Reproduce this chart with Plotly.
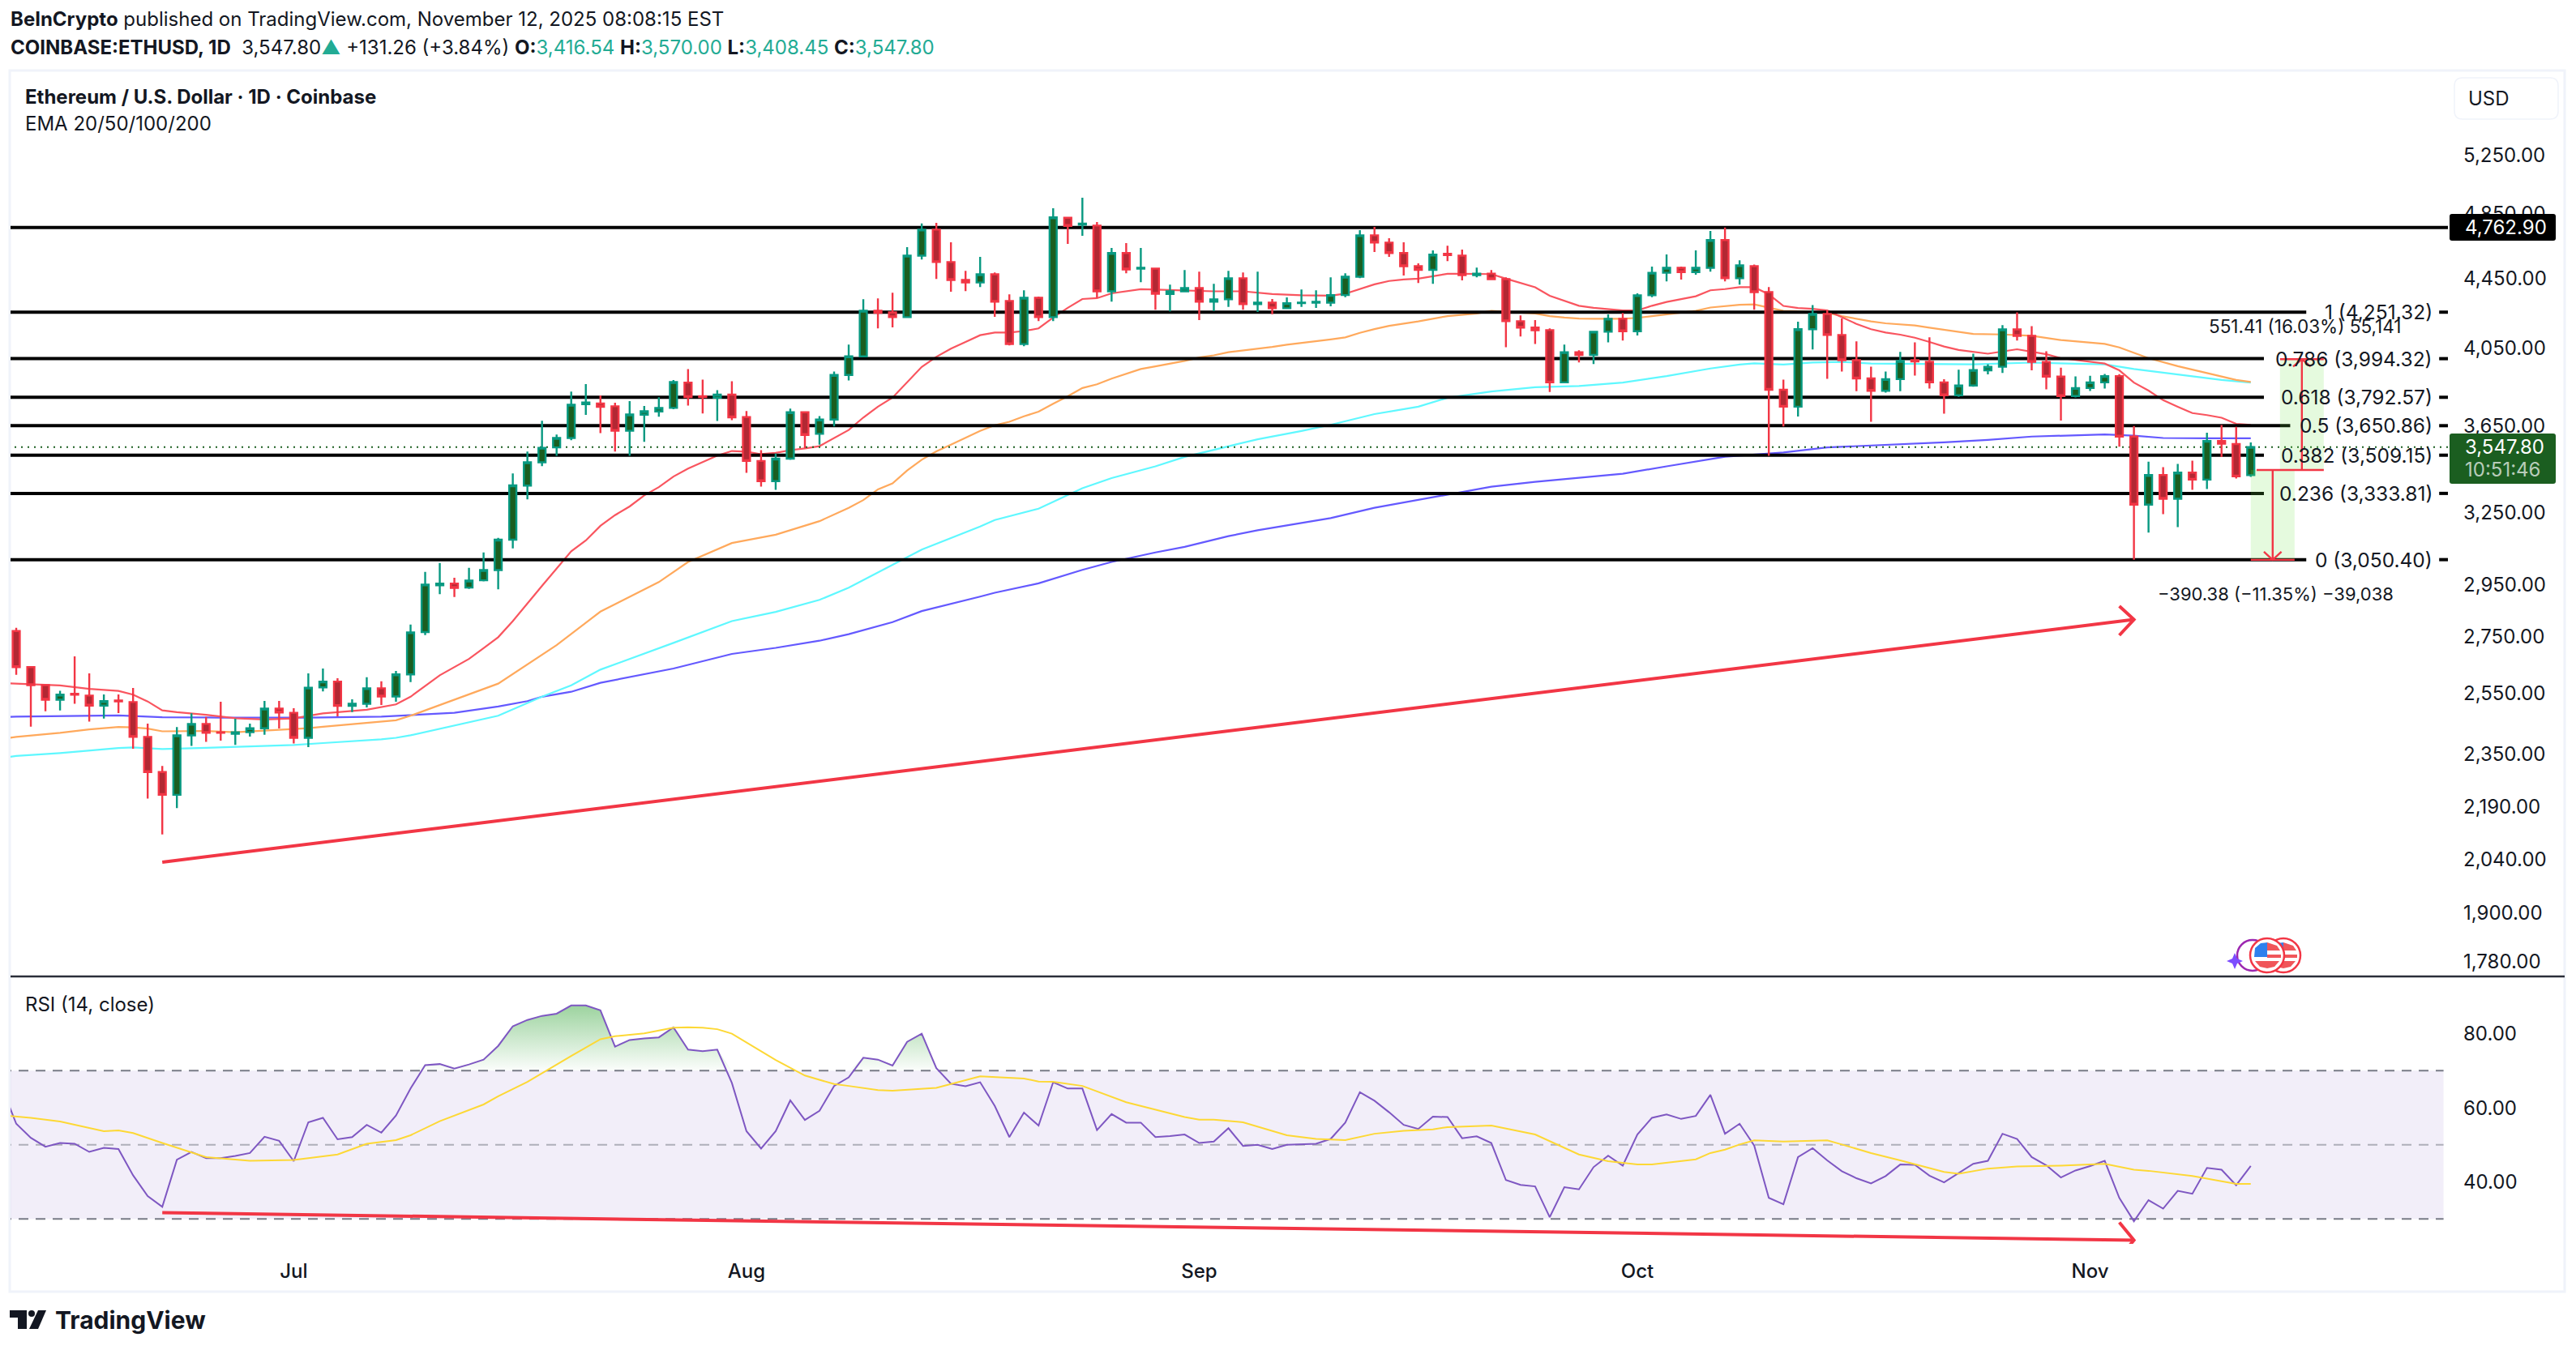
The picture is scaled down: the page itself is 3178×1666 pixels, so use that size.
"""ETH/USD daily chart with EMAs, fib levels and RSI pane."""
import math
import numpy as np
import pandas as pd
import plotly.graph_objects as go

W, H = 3178, 1666
FONT = "Inter"
INK = "#131722"
RED = "#f23645"
TEAL = "#22ab94"

first_day = pd.Timestamp("2025-06-12")

opens = [2772, 2641, 2578, 2528, 2548, 2542, 2508, 2525, 2520, 2405, 2294, 2225, 2410, 2447, 2420, 2415, 2420, 2433,
         2498, 2484, 2402, 2570, 2590, 2507, 2514, 2567, 2539, 2615, 2768, 2947, 2954, 2938, 2967, 3008, 3133, 3369,
         3476, 3546, 3591, 3758, 3761, 3747, 3626, 3705, 3721, 3739, 3868, 3798, 3790, 3806, 3693, 3482, 3389, 3493,
         3717, 3611, 3681, 3908, 4007, 4259, 4250, 4223, 4586, 4749, 4547, 4439, 4424, 4473, 4316, 4073, 4334, 4223,
         4825, 4780, 4775, 4372, 4602, 4507, 4507, 4356, 4372, 4391, 4311, 4325, 4449, 4297, 4306, 4274, 4303, 4306,
         4306, 4350, 4458, 4713, 4667, 4602, 4522, 4500, 4597, 4586, 4468, 4477, 4444, 4200, 4164, 4150, 3869, 4029,
         4014, 4141, 4214, 4144, 4349, 4482, 4512, 4486, 4512, 4683, 4449, 4522, 4367, 3831, 3745, 4155, 4241, 4123,
         3986, 3890, 3826, 3886, 3986, 3978, 3869, 3803, 3853, 3932, 3951, 4154, 4118, 3977, 3899, 3799, 3840, 3869,
         3902, 3598, 3284, 3417, 3310, 3428, 3396, 3577, 3562, 3416.54]
highs = [2784, 2644, 2580, 2558, 2679, 2619, 2546, 2546, 2568, 2448, 2313, 2437, 2482, 2470, 2521, 2464, 2448, 2524,
         2524, 2499, 2619, 2636, 2602, 2529, 2605, 2591, 2627, 2796, 3001, 3037, 2977, 3017, 3080, 3141, 3424, 3526,
         3675, 3608, 3822, 3860, 3802, 3765, 3773, 3749, 3793, 3881, 3939, 3883, 3829, 3875, 3723, 3533, 3517, 3735,
         3722, 3698, 3926, 4070, 4326, 4331, 4364, 4639, 4788, 4793, 4669, 4494, 4578, 4484, 4354, 4378, 4341, 4887,
         4828, 4957, 4798, 4634, 4664, 4634, 4513, 4411, 4499, 4489, 4416, 4494, 4484, 4489, 4327, 4336, 4383, 4378,
         4455, 4479, 4746, 4767, 4694, 4669, 4539, 4618, 4648, 4624, 4513, 4499, 4455, 4233, 4206, 4160, 4070, 4040,
         4146, 4238, 4247, 4360, 4519, 4594, 4519, 4618, 4741, 4762, 4558, 4532, 4397, 3883, 4197, 4292, 4263, 4215,
         4088, 3952, 3926, 4031, 4083, 4110, 3886, 3935, 4021, 3964, 4178, 4250, 4172, 4034, 3946, 3900, 3903, 3913,
         3912, 3649, 3479, 3453, 3468, 3483, 3617, 3654, 3645, 3570.00]
lows = [2614, 2438, 2489, 2492, 2514, 2455, 2465, 2483, 2367, 2214, 2110, 2186, 2376, 2389, 2393, 2379, 2406, 2412,
        2432, 2384, 2372, 2556, 2472, 2486, 2502, 2510, 2521, 2588, 2757, 2912, 2901, 2933, 2963, 2931, 3097, 3307,
        3458, 3506, 3580, 3704, 3615, 3526, 3506, 3573, 3695, 3732, 3751, 3711, 3674, 3678, 3427, 3364, 3350, 3487,
        3543, 3559, 3647, 3879, 4004, 4160, 4165, 4220, 4563, 4445, 4369, 4373, 4397, 4225, 4066, 4061, 4201, 4201,
        4659, 4710, 4334, 4312, 4479, 4426, 4265, 4256, 4369, 4206, 4258, 4281, 4265, 4252, 4240, 4271, 4281, 4276,
        4285, 4337, 4450, 4609, 4578, 4465, 4421, 4416, 4553, 4436, 4455, 4439, 4056, 4115, 4074, 3820, 3866, 3974,
        3965, 4083, 4092, 4120, 4337, 4431, 4441, 4470, 4489, 4431, 4411, 4265, 3506, 3647, 3696, 4044, 3888, 3926,
        3824, 3670, 3816, 3824, 3905, 3837, 3710, 3795, 3847, 3911, 3918, 4093, 3932, 3833, 3676, 3792, 3825, 3837,
        3549, 3050, 3163, 3242, 3186, 3350, 3353, 3501, 3401, 3408.45]
closes = [2641, 2578, 2528, 2545, 2545, 2508, 2523, 2522, 2405, 2294, 2225, 2410, 2447, 2418, 2418, 2420, 2433, 2498,
          2485, 2402, 2569, 2590, 2507, 2514, 2567, 2539, 2615, 2767, 2950, 2954, 2937, 2966, 3008, 3133, 3370, 3476,
          3544, 3591, 3755, 3766, 3744, 3626, 3706, 3722, 3739, 3871, 3794, 3794, 3806, 3692, 3482, 3389, 3493, 3717,
          3606, 3681, 3908, 4007, 4259, 4248, 4223, 4586, 4749, 4547, 4439, 4424, 4473, 4311, 4073, 4334, 4223, 4828,
          4773, 4787, 4372, 4602, 4502, 4512, 4358, 4372, 4391, 4311, 4325, 4449, 4297, 4306, 4274, 4303, 4306, 4311,
          4350, 4458, 4713, 4667, 4602, 4522, 4500, 4592, 4589, 4468, 4477, 4444, 4200, 4164, 4149, 3869, 4029, 4014,
          4141, 4214, 4144, 4349, 4482, 4512, 4486, 4512, 4683, 4449, 4527, 4367, 3831, 3745, 4155, 4241, 4123, 3986,
          3890, 3826, 3886, 3982, 3979, 3869, 3803, 3853, 3934, 3951, 4154, 4118, 3977, 3899, 3799, 3840, 3869, 3902,
          3598, 3284, 3417, 3310, 3428, 3396, 3577, 3564, 3411, 3547.80]

# ema readings: bar number, value
ema20_bars = [-1, 0, 3, 5, 7, 8, 9, 10, 11, 13, 15, 17, 19, 20, 21, 22, 24, 26, 27, 29, 31, 32, 33, 34, 35, 36, 38, 39,
              40, 41, 42, 43, 44, 45, 46, 47, 48, 49, 50, 51, 52, 53, 54, 55, 56, 57, 58, 59, 60, 61, 62, 63, 64, 65,
              66, 67, 68, 69, 70, 71, 72, 73, 74, 75, 76, 77, 78, 80, 82, 84, 86, 88, 90, 91, 92, 93, 94, 95, 96, 97,
              98, 99, 101, 102, 103, 104, 105, 106, 107, 108, 109, 110, 111, 112, 113, 114, 115, 116, 117, 118, 119,
              120, 121, 122, 123, 124, 125, 126, 127, 128, 129, 130, 131, 132, 133, 135, 137, 139, 140, 141, 142, 143,
              144, 145, 146, 147, 148, 149, 150, 151, 152, 153]
ema20_vals = [2585, 2583, 2577, 2565, 2558, 2545, 2522, 2492, 2486, 2477, 2466, 2462, 2465, 2474, 2482, 2486, 2494,
              2512, 2538, 2612, 2670, 2709, 2749, 2809, 2877, 2945, 3085, 3130, 3192, 3238, 3276, 3325, 3362, 3410,
              3447, 3476, 3507, 3529, 3526, 3514, 3520, 3533, 3541, 3552, 3592, 3630, 3691, 3745, 3791, 3868, 3950,
              4004, 4048, 4085, 4122, 4137, 4137, 4145, 4160, 4221, 4276, 4327, 4332, 4360, 4372, 4384, 4382, 4378,
              4372, 4372, 4356, 4349, 4346, 4358, 4385, 4413, 4433, 4442, 4447, 4463, 4476, 4476, 4474, 4447, 4420,
              4396, 4346, 4318, 4288, 4276, 4270, 4261, 4261, 4288, 4310, 4325, 4343, 4378, 4385, 4396, 4396, 4354,
              4287, 4275, 4270, 4261, 4223, 4185, 4155, 4137, 4125, 4108, 4085, 4060, 4041, 4021, 4045, 4018, 3997,
              3987, 3975, 3968, 3932, 3868, 3827, 3778, 3745, 3713, 3703, 3690, 3660, 3655]
ema50_bars = [-1, 0, 3, 5, 7, 8, 9, 10, 13, 15, 17, 19, 20, 21, 22, 24, 26, 27, 29, 31, 33, 37, 40, 44, 46, 49, 52, 55,
              57, 58, 59, 60, 61, 62, 63, 64, 65, 66, 67, 68, 69, 70, 71, 72, 73, 74, 75, 76, 77, 78, 79, 80, 81, 82,
              83, 84, 85, 86, 87, 88, 90, 91, 92, 93, 94, 96, 98, 100, 101, 104, 105, 106, 107, 108, 110, 111, 112,
              113, 114, 115, 116, 117, 118, 119, 120, 121, 122, 124, 125, 126, 127, 128, 129, 130, 131, 132, 134, 136,
              138, 140, 143, 144, 145, 146, 148, 150, 152, 153]
ema50_vals = [2398, 2405, 2418, 2429, 2437, 2436, 2432, 2423, 2424, 2420, 2425, 2429, 2433, 2438, 2442, 2449, 2459,
              2474, 2510, 2547, 2583, 2720, 2845, 2960, 3041, 3119, 3154, 3212, 3270, 3304, 3352, 3379, 3438, 3488,
              3527, 3559, 3592, 3625, 3653, 3670, 3697, 3720, 3760, 3798, 3840, 3859, 3889, 3915, 3939, 3953, 3968,
              3982, 4001, 4012, 4029, 4038, 4049, 4058, 4070, 4079, 4099, 4110, 4135, 4156, 4174, 4199, 4229, 4244,
              4259, 4244, 4229, 4221, 4215, 4214, 4214, 4219, 4229, 4237, 4247, 4259, 4278, 4285, 4294, 4296, 4278,
              4259, 4256, 4248, 4229, 4214, 4199, 4188, 4182, 4176, 4164, 4152, 4129, 4126, 4119, 4095, 4074, 4055,
              4026, 3997, 3954, 3918, 3882, 3871]
ema100_bars = [-1, 0, 3, 7, 8, 10, 13, 17, 19, 21, 25, 26, 27, 33, 36, 38, 40, 45, 49, 52, 55, 57, 60, 62, 66, 67, 70,
               73, 75, 78, 80, 83, 85, 88, 90, 93, 96, 98, 101, 104, 107, 110, 113, 116, 118, 119, 121, 123, 125, 127,
               132, 134, 138, 143, 145, 148, 151, 153]
ema100_vals = [2338, 2344, 2353, 2369, 2371, 2366, 2370, 2376, 2379, 2385, 2397, 2402, 2410, 2474, 2538, 2577, 2632,
               2728, 2809, 2844, 2890, 2938, 3028, 3092, 3189, 3217, 3266, 3357, 3403, 3457, 3501, 3552, 3585, 3625,
               3655, 3708, 3745, 3790, 3822, 3844, 3850, 3868, 3902, 3942, 3963, 3969, 3963, 3974, 3977, 3968, 3963,
               3964, 3973, 3964, 3939, 3911, 3882, 3868]
ema200_bars = [-1, 0, 7, 9, 10, 14, 18, 20, 25, 27, 30, 33, 35, 36, 38, 40, 45, 49, 52, 55, 57, 60, 62, 66, 67, 70, 73,
               75, 78, 80, 83, 85, 88, 90, 93, 98, 101, 104, 107, 110, 113, 117, 121, 124, 132, 135, 138, 143, 145,
               147, 150, 153]
ema200_vals = [2470, 2471, 2475, 2471, 2469, 2468, 2468, 2468, 2471, 2476, 2484, 2505, 2523, 2538, 2555, 2586, 2636,
               2688, 2710, 2736, 2760, 2805, 2847, 2903, 2918, 2955, 3009, 3041, 3080, 3103, 3148, 3173, 3203, 3225,
               3270, 3328, 3364, 3386, 3405, 3423, 3457, 3502, 3522, 3546, 3570, 3582, 3598, 3608, 3602, 3591, 3590,
               3590]

# rsi starts one bar before the first candle
rsi_vals = [65.7, 55.7, 51.9, 49.5, 50.5, 50.3, 48.1, 49.2, 48.9, 41.8, 36.2, 33.3, 46.0, 48.1, 46.4, 46.4, 47.0, 47.8,
            52.2, 51.1, 45.6, 56.1, 57.3, 51.5, 52.1, 55.4, 53.3, 57.9, 65.2, 71.5, 71.8, 70.6, 71.7, 73.0, 76.7,
            82.0, 83.7, 84.8, 85.4, 87.6, 87.6, 86.3, 76.5, 78.3, 78.7, 79.0, 81.7, 75.7, 75.3, 75.7, 66.7, 53.7,
            49.0, 53.7, 62.0, 56.7, 59.2, 65.9, 68.2, 73.5, 73.0, 71.4, 77.8, 80.0, 70.7, 66.5, 65.8, 66.9, 60.5,
            52.1, 58.7, 55.2, 66.9, 65.2, 65.2, 54.0, 58.3, 56.0, 56.0, 52.1, 52.4, 52.8, 50.5, 50.9, 54.5, 49.7,
            50.0, 48.9, 50.0, 50.1, 50.3, 51.6, 56.0, 64.2, 61.9, 58.8, 55.4, 54.3, 57.6, 57.5, 51.8, 52.3, 50.5,
            40.5, 39.2, 38.8, 30.5, 38.6, 38.0, 44.0, 47.1, 44.4, 52.8, 57.3, 58.2, 57.0, 57.8, 63.5, 53.0, 55.7,
            49.8, 35.7, 34.0, 46.7, 49.1, 45.8, 42.9, 41.0, 39.6, 41.6, 44.7, 44.6, 41.7, 39.9, 42.4, 44.9, 45.7,
            53.0, 51.6, 46.7, 44.5, 41.2, 43.1, 44.3, 45.7, 35.7, 29.4, 35.1, 32.8, 37.6, 36.8, 43.8, 43.3, 39.1, 44.3]
rsi_ma_bars = [-1, 1, 3, 6, 7, 8, 10, 13, 16, 19, 22, 24, 26, 27, 29, 32, 33, 35, 38, 40, 41, 43, 45, 46, 47, 48, 49,
               52, 54, 56, 57, 59, 60, 63, 66, 69, 70, 71, 73, 76, 80, 81, 82, 84, 87, 89, 91, 93, 95, 97, 98, 101,
               104, 107, 109, 111, 112, 115, 116, 117, 118, 119, 121, 124, 125, 127, 129, 132, 133, 135, 137, 140,
               143, 145, 146, 149, 152, 153]
rsi_ma_vals = [58.0, 57.3, 56.3, 53.7, 53.9, 53.2, 50.5, 46.7, 45.7, 45.9, 47.4, 50.3, 51.3, 52.6, 56.4, 60.9, 63.1,
               67.0, 74.0, 78.5, 79.3, 80.1, 81.6, 81.7, 81.6, 81.2, 80.0, 72.9, 68.7, 66.4, 65.9, 64.8, 64.6, 65.4,
               68.5, 67.9, 67.1, 67.0, 65.9, 61.5, 57.5, 56.8, 56.8, 56.1, 52.6, 51.6, 51.3, 53.0, 53.8, 54.2, 54.8,
               55.2, 52.8, 47.4, 45.6, 44.7, 44.7, 46.1, 47.8, 48.7, 50.1, 51.2, 50.9, 51.2, 50.1, 47.8, 45.8, 42.7,
               42.2, 43.6, 44.2, 44.4, 44.9, 43.3, 43.0, 41.6, 39.5, 39.5]

fib_ratios = ["1", "0.786", "0.618", "0.5", "0.382", "0.236", "0"]
fib_prices = [4251.32, 3994.32, 3792.57, 3650.86, 3509.15, 3333.81, 3050.40]
fib_line_end = [156.8, 153.9, 153.9, 155.7, 153.9, 153.9, 156.8]
resistance = 4762.90
last_price = 3547.80

price_ticks = [5250, 4850, 4450, 4050, 3650, 3250, 2950, 2750, 2550, 2350, 2190, 2040, 1900, 1780]
rsi_ticks = [80, 60, 40]
month_ticks = ["2025-07-01", "2025-08-01", "2025-09-01", "2025-10-01", "2025-11-01"]
month_labels = ["Jul", "Aug", "Sep", "Oct", "Nov"]

trend_bars = [10, 145]
trend_prices = [2033, 2815]
trend_head_bars = [144, 145, 144]
trend_head_prices = [2866, 2815, 2756]
rsi_trend_bars = [10, 145]
rsi_trend_vals = [31.7, 24.3]
rsi_head_bars = [144, 145, 144]
rsi_head_vals = [29.1, 24.3, 19.5]

measure_start = 3440
measure_top = 3991.41
measure_bottom = 3049.62


def day(i):
    return first_day + pd.Timedelta(days=float(i))


def days(items):
    return [day(i) for i in items]


def px(x):
    return x / W


def py(y):
    return 1 - y / H


def box_path(x0, y0, x1, y1, r=0):
    a, b, c, d = px(x0), py(y0), px(x1), py(y1)
    rx, ry = px(r), r / H
    return (f"M {a + rx} {b} L {c - rx} {b} Q {c} {b} {c} {b - ry} L {c} {d + ry} Q {c} {d} {c - rx} {d} "
            f"L {a + rx} {d} Q {a} {d} {a} {d + ry} L {a} {b - ry} Q {a} {b} {a + rx} {b} Z")


def poly_path(points):
    return "M " + " L ".join(f"{px(x)} {py(y)}" for x, y in points) + " Z"


def note(x, y, text, size=24, color=INK, anchor="left", yref="paper", **kw):
    return dict(x=px(x), y=py(y) if yref == "paper" else y, xref="paper", yref=yref, text=text, showarrow=False,
                xanchor=anchor, yanchor="middle", font=dict(family=FONT, size=size, color=color), **kw)


fig = go.Figure()

# emas under everything
ema_sets = [(ema200_bars, ema200_vals, "#6459ff"), (ema100_bars, ema100_vals, "#5ff8ff"),
            (ema50_bars, ema50_vals, "#ffa95c"), (ema20_bars, ema20_vals, "#f9555f")]
for bars, vals, col in ema_sets:
    fig.add_trace(go.Scatter(x=days(bars), y=vals, mode="lines", line=dict(color=col, width=2.2),
                             xaxis="x", yaxis="y", hoverinfo="skip"))

fig.add_trace(go.Scatter(x=days([-1, 166.5]), y=[last_price, last_price], mode="lines",
                         line=dict(color="#1b5e20", width=2, dash="2px,6px"), xaxis="x", yaxis="y"))
fig.add_trace(go.Scatter(x=days([-1, 166.5]), y=[resistance, resistance], mode="lines",
                         line=dict(color="black", width=4), xaxis="x", yaxis="y"))
for level, end in zip(fib_prices, fib_line_end):
    fig.add_trace(go.Scatter(x=[day(-1), day(end), None, day(165.9), day(166.5)],
                             y=[level, level, None, level, level], mode="lines",
                             line=dict(color="black", width=4), xaxis="x", yaxis="y"))

# candles sit in an overlay subplot so they draw above the lines
fig.add_trace(go.Candlestick(x=days(range(len(opens))), open=opens, high=highs, low=lows, close=closes,
                             increasing=dict(line=dict(color="#089981", width=2.4), fillcolor="#1b5e20"),
                             decreasing=dict(line=dict(color=RED, width=2.4), fillcolor="#b22833"),
                             whiskerwidth=0, xaxis="x3", yaxis="y3", hoverinfo="skip"))

for bar0, bar1, p0, p1 in [(155, 158, measure_start, measure_top), (153, 156, measure_start, measure_bottom)]:
    fig.add_trace(go.Scatter(x=days([bar0, bar1, bar1, bar0, bar0]), y=[p0, p0, p1, p1, p0], mode="lines",
                             fill="toself", fillcolor="rgba(110,225,70,0.18)", line=dict(width=0),
                             xaxis="x3", yaxis="y3"))

red_lines = [
    ([10, 145], trend_prices, 4), (trend_head_bars, trend_head_prices, 4),
    ([153.4, 158], [measure_start, measure_start], 2.4), ([155, 158], [measure_top, measure_top], 2.4),
    ([153, 156], [measure_bottom, measure_bottom], 2.4),
    ([156.5, 156.5], [measure_start, measure_top], 2.4), ([155.9, 156.5, 157.1], [3952, measure_top, 3952], 2.4),
    ([154.5, 154.5], [measure_start, measure_bottom], 2.4), ([153.9, 154.5, 155.1], [3083, measure_bottom, 3083], 2.4),
]
for bars, vals, lw in red_lines:
    fig.add_trace(go.Scatter(x=days(bars), y=vals, mode="lines", line=dict(color=RED, width=lw),
                             xaxis="x3", yaxis="y3"))

# rsi pane
rsi_days = days(range(-1, len(rsi_vals) - 1))
rsi_arr = np.array(rsi_vals)
fig.add_trace(go.Scatter(x=rsi_days, y=[70] * len(rsi_vals), mode="lines", line=dict(width=0),
                         xaxis="x2", yaxis="y2"))
fig.add_trace(go.Scatter(x=rsi_days, y=np.maximum(rsi_arr, 70), mode="lines", line=dict(width=0), fill="tonexty",
                         fillgradient=dict(type="vertical", colorscale=[[0, "rgba(76,175,80,0.02)"],
                                                                        [1, "rgba(76,175,80,0.55)"]]),
                         xaxis="x2", yaxis="y2"))
for level, col in [(70, "#787b86"), (50, "rgba(120,123,134,0.55)"), (30, "#787b86")]:
    fig.add_trace(go.Scatter(x=days([-1, 166.2]), y=[level, level], mode="lines",
                             line=dict(color=col, width=2, dash="12px,9px"), xaxis="x2", yaxis="y2"))
fig.add_trace(go.Scatter(x=rsi_days, y=rsi_vals, mode="lines", line=dict(color="#7e57c2", width=2),
                         xaxis="x2", yaxis="y2"))
fig.add_trace(go.Scatter(x=days(rsi_ma_bars), y=rsi_ma_vals, mode="lines", line=dict(color="#fdd835", width=2),
                         xaxis="x2", yaxis="y2"))
fig.add_trace(go.Scatter(x=days(rsi_trend_bars), y=rsi_trend_vals, mode="lines", line=dict(color=RED, width=4),
                         xaxis="x2", yaxis="y2"))
fig.add_trace(go.Scatter(x=days(rsi_head_bars), y=rsi_head_vals, mode="lines", line=dict(color=RED, width=4),
                         xaxis="x2", yaxis="y2"))

price_range = [math.log10(1744), math.log10(5879)]
rsi_range = [23.3, 95.0]
x_range = [day(-0.39), day(166.5)]
x_domain = [px(13), px(3020)]
tick_font = dict(family=FONT, size=24, color=INK)

shapes = [
    dict(type="rect", xref="x2", yref="y2", x0=day(-1), x1=day(166.2), y0=30, y1=70, layer="below",
         fillcolor="rgba(126,87,194,0.1)", line=dict(width=0)),
    dict(type="rect", xref="paper", yref="paper", x0=px(12), x1=px(3164), y0=py(1594), y1=py(87),
         line=dict(color="#f0f3fa", width=3), layer="below"),
    dict(type="line", xref="paper", yref="paper", x0=px(13), x1=px(3164), y0=py(1205), y1=py(1205),
         line=dict(color="#2a2e39", width=2.5)),
    dict(type="path", xref="paper", yref="paper", path=box_path(3028, 96, 3156, 147, 10),
         line=dict(color="#f0f3fa", width=1.5)),
    dict(type="path", xref="paper", yref="paper", path=box_path(3022, 264, 3153, 297, 3),
         fillcolor="black", line=dict(width=0)),
    dict(type="path", xref="paper", yref="paper", path=box_path(3022, 535, 3153, 597, 3),
         fillcolor="#1b5e20", line=dict(width=0)),
    # tradingview mark
    dict(type="path", xref="paper", yref="paper", fillcolor="#131722", line=dict(width=0),
         path=poly_path([(12, 1617), (33, 1617), (33, 1640), (22, 1640), (22, 1626), (12, 1626)])),
    dict(type="path", xref="paper", yref="paper", fillcolor="#131722", line=dict(width=0),
         path=poly_path([(47, 1617), (57, 1617), (47, 1640), (36, 1640)])),
    dict(type="circle", xref="paper", yref="paper", fillcolor="#131722", line=dict(width=0),
         x0=px(35), x1=px(43), y0=py(1625), y1=py(1617)),
    # event icons
    dict(type="circle", xref="paper", yref="paper", line=dict(color="#9c27b0", width=2.5),
         x0=px(2760), x1=px(2798), y0=py(1198), y1=py(1160)),
    dict(type="path", xref="paper", yref="paper", fillcolor="#7c4dff", line=dict(width=0),
         path=poly_path([(2757, 1176), (2760, 1183), (2767, 1186), (2760, 1189), (2757, 1196), (2754, 1189),
                         (2747, 1186), (2754, 1183)])),
]
for cx in [2817, 2797]:
    shapes += [
        dict(type="circle", xref="paper", yref="paper", fillcolor="white", line=dict(color=RED, width=2.5),
             x0=px(cx - 21), x1=px(cx + 21), y0=py(1200), y1=py(1158)),
        dict(type="path", xref="paper", yref="paper", fillcolor="#f0565a", line=dict(width=0),
             path=poly_path([(cx, 1163), (cx + 12, 1167), (cx + 16, 1173), (cx, 1173)])),
        dict(type="path", xref="paper", yref="paper", fillcolor="#f0565a", line=dict(width=0),
             path=poly_path([(cx, 1178), (cx + 17, 1178), (cx + 17, 1182), (cx, 1182)])),
        dict(type="path", xref="paper", yref="paper", fillcolor="#f0565a", line=dict(width=0),
             path=poly_path([(cx - 15, 1186), (cx + 15, 1186), (cx + 9, 1193), (cx, 1195), (cx - 9, 1193)])),
        dict(type="path", xref="paper", yref="paper", fillcolor="#2f80ed", line=dict(width=0),
             path=poly_path([(cx - 15, 1170), (cx - 8, 1164), (cx, 1163), (cx, 1181), (cx - 16, 1181)])),
    ]

head1 = ("<b>BeInCrypto</b> published on TradingView.com, November 12, 2025 08:08:15 EST")
head2 = (f"<b>COINBASE:ETHUSD, 1D</b>  3,547.80<span style='color:{TEAL}'>▲</span> +131.26 (+3.84%) "
         f"<b>O:</b><span style='color:{TEAL}'>3,416.54</span> <b>H:</b><span style='color:{TEAL}'>3,570.00</span> "
         f"<b>L:</b><span style='color:{TEAL}'>3,408.45</span> <b>C:</b><span style='color:{TEAL}'>3,547.80</span>")
annotations = [
    note(11, 24, head1, size=24),
    note(11, 58, head2, size=24),
    note(29, 120, "<b>Ethereum / U.S. Dollar · 1D · Coinbase</b>", size=24),
    note(29, 153, "EMA 20/50/100/200", size=24),
    note(29, 1239, "RSI (14, close)", size=24),
    note(66, 1629, "<b>TradingView</b>", size=30),
    note(3043, 121, "USD", size=24),
    note(3039, 281, "4,762.90", color="white"),
    note(3039, 551, "3,547.80", color="white"),
    note(3039, 579, "10:51:46", color="rgba(255,255,255,0.7)"),
    note(2843, 403, "551.41 (16.03%) 55,141", size=22.5, anchor="center"),
    note(2807, 733, "−390.38 (−11.35%) −39,038", size=22, anchor="center"),
]
for ratio, level in zip(fib_ratios, fib_prices):
    annotations.append(note(3003, math.log10(level), f"{ratio} ({level:,.2f})", size=24.5, anchor="right", yref="y"))

fig.update_layout(
    width=W, height=H, autosize=False, margin=dict(l=0, r=0, t=0, b=0), showlegend=False,
    paper_bgcolor="white", plot_bgcolor="rgba(0,0,0,0)", font=dict(family=FONT, color=INK),
    shapes=shapes, annotations=annotations,
    xaxis=dict(domain=x_domain, range=x_range, type="date", anchor="y", showticklabels=False, showgrid=False,
               zeroline=False, showline=False, ticks=""),
    yaxis=dict(domain=[py(1205), py(87)], range=price_range, type="log", side="right", anchor="x", showgrid=False,
               zeroline=False, showline=False, ticks="", tickmode="array", tickvals=price_ticks,
               ticktext=[f"{t:,.2f}" for t in price_ticks], tickfont=tick_font, ticklabelstandoff=18),
    xaxis3=dict(domain=x_domain, range=x_range, type="date", overlaying="x", anchor="y3", visible=False,
                rangeslider=dict(visible=False)),
    yaxis3=dict(domain=[py(1205), py(87)], range=price_range, type="log", overlaying="y", anchor="x3", side="right",
                visible=False),
    xaxis2=dict(domain=x_domain, range=x_range, type="date", anchor="y2", showgrid=False, zeroline=False,
                showline=False, ticks="", tickmode="array", tickvals=month_ticks, ticktext=month_labels,
                tickfont=dict(family=FONT, size=24, color=INK, weight=500), ticklabelstandoff=17),
    yaxis2=dict(domain=[py(1535), py(1207)], range=rsi_range, side="right", anchor="x2", showgrid=False,
                zeroline=False, showline=False, ticks="", tickmode="array", tickvals=rsi_ticks,
                ticktext=[f"{t:.2f}" for t in rsi_ticks], tickfont=tick_font, ticklabelstandoff=18),
)

fig.write_html("out.html", config={"displayModeBar": False}, post_script="document.body.style.margin='0';")
